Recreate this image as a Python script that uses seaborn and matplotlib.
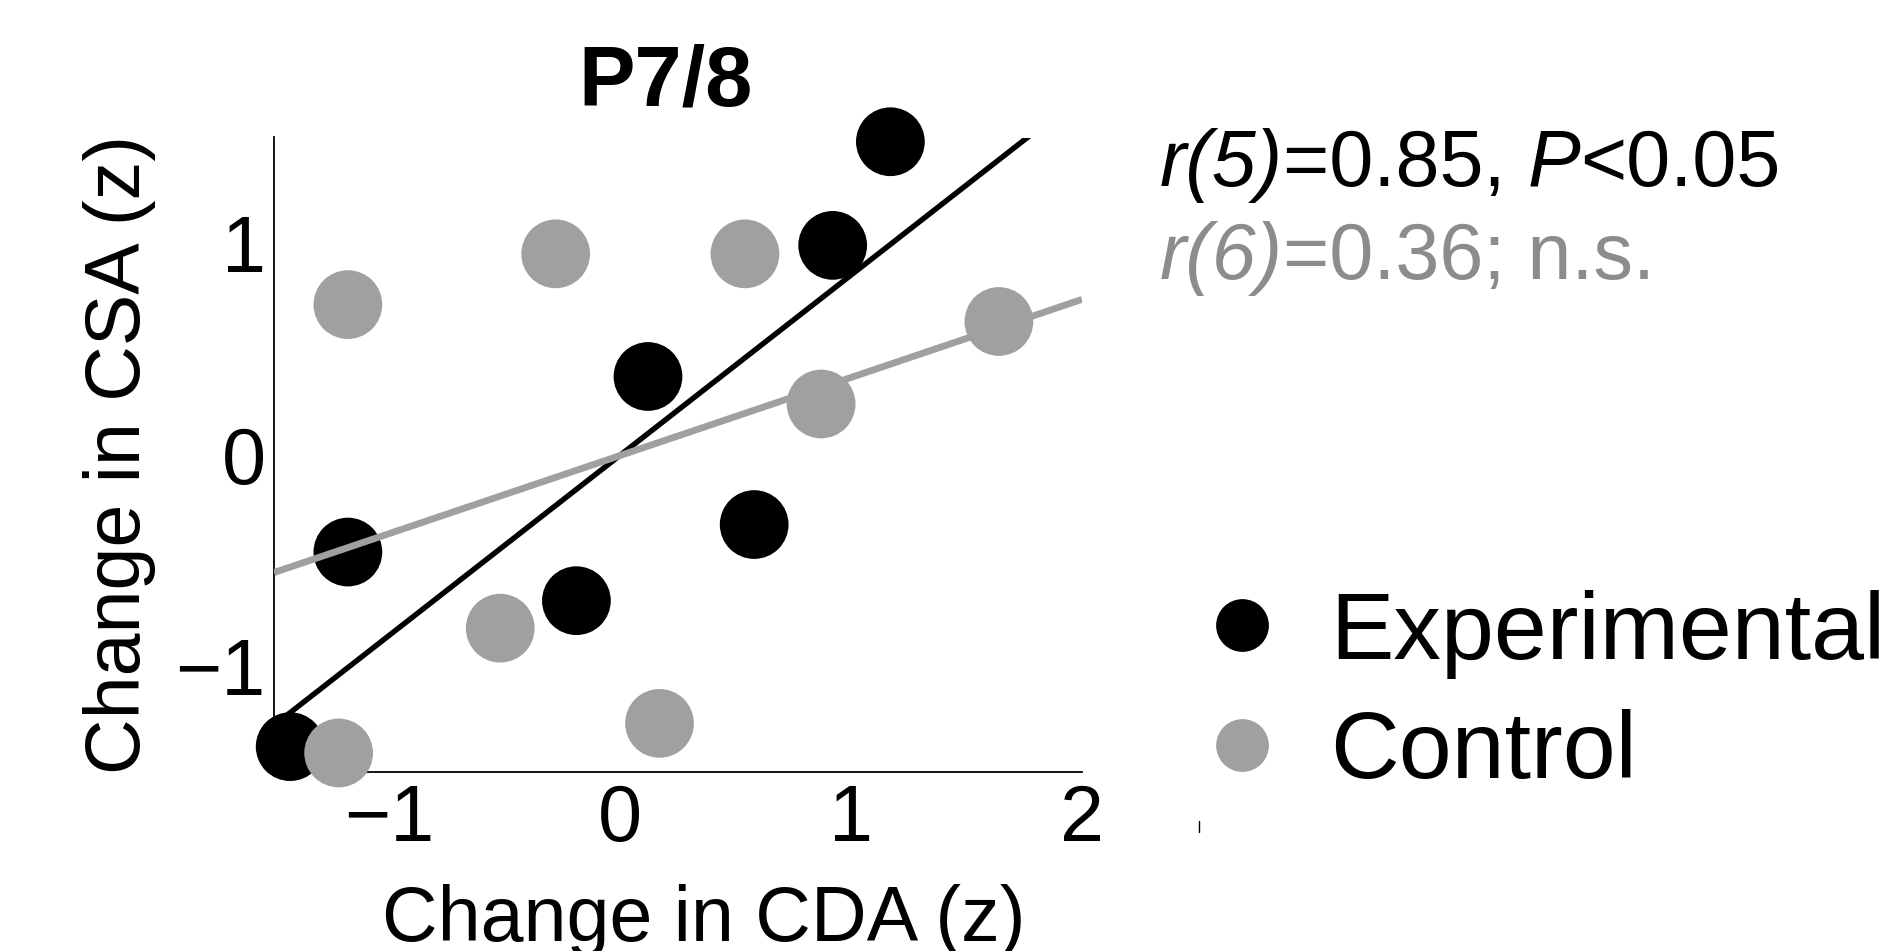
import numpy as np
import pandas as pd
import matplotlib
matplotlib.use("Agg")
import matplotlib.pyplot as plt
from matplotlib.lines import Line2D
from matplotlib.transforms import offset_copy
import seaborn as sns

# Per-subject z-scored changes at P7/8
exp_cda = [1.17, 0.92, 0.12, -1.18, 0.58, -0.19, -1.43]
exp_csa = [1.48, 0.99, 0.37, -0.46, -0.33, -0.69, -1.38]
ctl_cda = [-1.18, -0.28, 0.54, 1.64, 0.87, -0.52, 0.17, -1.22]
ctl_csa = [0.71, 0.95, 0.95, 0.63, 0.24, -0.82, -1.27, -1.41]

groups = ["Experimental", "Control"]
# correlation statements as (text, italic) runs
stats_exp = [("r(5)", True), ("=0.85, ", False), ("P", True), ("<0.05", False)]
stats_ctl = [("r(6)", True), ("=0.36; n.s.", False)]
x_ticks = [-1.5, -1, -0.5, 0, 0.5, 1, 1.5, 2]
x_labels = ["", "\u22121", "", "0", "", "1", "", "2"]
y_ticks = [-1.5, -1, -0.5, 0, 0.5, 1, 1.5]
y_labels = ["", "\u22121", "", "0", "", "1", ""]

black = "#000000"
grey = "#a0a0a0"
grey_text = "#8c8c8c"
palette = {"Experimental": black, "Control": grey}
line_widths = {"Experimental": 3.9, "Control": 4.9}
line_order = {"Experimental": 4, "Control": 5}

df = pd.DataFrame({
    "cda": exp_cda + ctl_cda,
    "csa": exp_csa + ctl_csa,
    "group": [groups[0]] * len(exp_cda) + [groups[1]] * len(ctl_cda),
})

sns.set_theme(style="white")
plt.rcParams["font.family"] = ["Liberation Sans", "DejaVu Sans"]
plt.rcParams["text.color"] = "black"
plt.rcParams["axes.labelcolor"] = "black"
plt.rcParams["axes.titlecolor"] = "black"

fig = plt.figure(figsize=(18.79, 9.51), dpi=100)
ax = fig.add_axes([274 / 1879, 1 - 772 / 951, 808 / 1879, 634.5 / 951])
ax.set_xlim(-1.5, 2)
ax.set_ylim(-1.5, 1.5)

sns.scatterplot(data=df, x="cda", y="csa", hue="group", palette=palette,
                hue_order=groups, s=2450, linewidth=0, legend=False,
                ax=ax, clip_on=False, zorder=3)

for g in groups:
    sub = df[df["group"] == g]
    sns.regplot(data=sub, x="cda", y="csa", scatter=False, ci=None,
                truncate=False, color=palette[g], ax=ax,
                line_kws={"linewidth": line_widths[g], "zorder": line_order[g],
                          "solid_capstyle": "butt"})

ax.set_xlim(-1.5, 2)
ax.set_ylim(-1.5, 1.5)

for s in ["top", "right"]:
    ax.spines[s].set_visible(False)
for s in ["left", "bottom"]:
    ax.spines[s].set_linewidth(1.3)
    ax.spines[s].set_color("black")

ax.set_xticks(x_ticks)
ax.set_xticklabels(x_labels)
ax.set_yticks(y_ticks)
ax.set_yticklabels(y_labels)
ax.tick_params(axis="both", direction="in", length=5, width=0.9,
               color="black", labelsize=57, labelcolor="black")
ax.tick_params(axis="x", pad=8)
ax.tick_params(axis="y", pad=6)

ax.set_xlabel("Change in CDA (z)", fontsize=55.5, color="black")
ax.set_ylabel("Change in CSA (z)", fontsize=55.5, color="black")
ax.xaxis.set_label_coords(0.532, -0.176)
ax.yaxis.set_label_coords(-0.146, 0.5)

ax.set_title("P7/8", fontsize=61, fontweight="bold", pad=23, x=0.485,
             color="black")


def draw_runs(runs, x, y, color, size):
    """Write consecutive text runs on one baseline, italic where flagged."""
    renderer = fig.canvas.get_renderer()
    trans = fig.transFigure
    for text, italic in runs:
        t = fig.text(x, y, text, fontsize=size, color=color,
                     style="italic" if italic else "normal",
                     va="baseline", ha="left", transform=trans)
        w = t.get_window_extent(renderer=renderer).width
        trans = offset_copy(trans, fig=fig, x=w * 72 / fig.dpi, units="points")


draw_runs(stats_exp, 1160 / 1879, 1 - 186 / 951, black, 57)
draw_runs(stats_ctl, 1160 / 1879, 1 - 279 / 951, grey_text, 57)

handles = [Line2D([], [], marker="o", linestyle="", markersize=38,
                  markerfacecolor=palette[g], markeredgewidth=0, label=g)
           for g in groups]
leg = ax.legend(handles=handles, loc="center left",
                bbox_to_anchor=(1195 / 1879, 1 - 694 / 951),
                bbox_transform=fig.transFigure, frameon=False, fontsize=68.5,
                handlelength=0.98, handletextpad=0.44, labelspacing=0.32,
                borderpad=0, borderaxespad=0)
for txt in leg.get_texts():
    txt.set_color("black")

fig.add_artist(Line2D([1199 / 1879, 1199 / 1879],
                      [1 - 821 / 951, 1 - 832 / 951],
                      color="black", linewidth=1.0))

fig.savefig("out.png", dpi=100)
